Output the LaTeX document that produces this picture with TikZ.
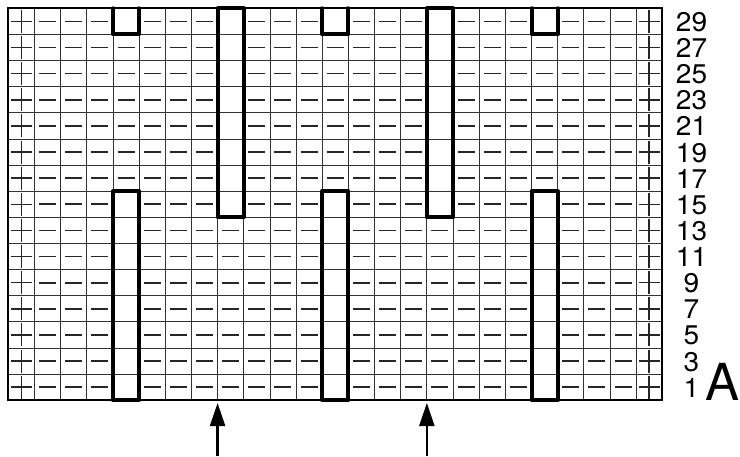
\documentclass[tikz,border=0pt]{standalone}
\usepackage{fontspec}
\setmainfont{TeX Gyre Heros}
\usetikzlibrary{arrows.meta}
\tikzset{
  gridline/.style={draw=black!80, line width=0.8pt},
  border/.style={draw=black, line width=1.8pt},
  boxline/.style={draw=black, line width=4pt, line cap=round, line join=round},
  minussym/.style={draw=black!85, line width=1.7pt},
  plussym/.style={draw=black!85, line width=1.5pt},
  rowlabel/.style={font=\fontsize{27}{27}\selectfont, anchor=base, inner sep=0pt},
  bigletter/.style={font=\fontsize{51}{51}\selectfont, anchor=base east, inner sep=0pt},
  uparrow/.style={draw=black, line width=2.2pt, -{Triangle[length=23pt,width=15pt]}}
}
\begin{document}
\begin{tikzpicture}[x=1pt,y=-1pt]
\useasboundingbox (0,0) rectangle (740,456);
\def\gx{8.3}\def\gy{8.3}\def\cw{26.16}\def\ch{26.13}
% grid lines
\foreach \c in {1,...,24}{
  \draw[gridline] ({\gx+\c*\cw},\gy) -- ({\gx+\c*\cw},{\gy+15*\ch});
}
\foreach \r in {1,...,14}{
  \draw[gridline] (\gx,{\gy+\r*\ch}) -- ({\gx+25*\cw},{\gy+\r*\ch});
}
% symbols
\foreach \r in {0,...,14}{
  \foreach \c in {1,...,23}{
    \pgfmathtruncatemacro\e{((\c==8 || \c==16) && \r<8) || ((\c==4 || \c==12 || \c==20) && (\r>6 || \r==0))}
    \ifnum\e=0
      \draw[minussym] ({\gx+(\c+0.5)*\cw-8.5},{\gy+(\r+0.5)*\ch}) -- ++(17,0);
    \fi
  }
  \foreach \c in {0,24}{
    \draw[plussym] ({\gx+(\c+0.5)*\cw-10.3},{\gy+(\r+0.5)*\ch}) -- ++(20.6,0);
    \draw[plussym] ({\gx+(\c+0.5)*\cw},{\gy+(\r+0.5)*\ch-11.5}) -- ++(0,23);
  }
}
% border
\draw[border] (\gx,\gy) rectangle ({\gx+25*\cw},{\gy+15*\ch});
% tall top boxes
\foreach \c in {8,16}{
  \draw[boxline] ({\gx+\c*\cw},\gy) rectangle ({\gx+(\c+1)*\cw},{\gy+8*\ch});
}
% bottom boxes and top open boxes
\foreach \c in {4,12,20}{
  \draw[boxline] ({\gx+\c*\cw},{\gy+7*\ch}) rectangle ({\gx+(\c+1)*\cw},{\gy+15*\ch});
  \draw[boxline] ({\gx+\c*\cw},\gy) -- ({\gx+\c*\cw},{\gy+\ch}) -- ({\gx+(\c+1)*\cw},{\gy+\ch}) -- ({\gx+(\c+1)*\cw},\gy);
}
% row labels
\foreach \r in {0,...,14}{
  \pgfmathtruncatemacro\lab{29-2*\r}
  \node[rowlabel] (lab\lab) at (691.5,{\gy+(\r+0.5)*\ch+10}) {\scalebox{1.04}[1]{\lab}};
}
\node[bigletter] (letterA) at (739.5,400.5) {A};
% arrows
\coordinate (a1top) at ({\gx+8*\cw},403);
\coordinate (a1bot) at ({\gx+8*\cw},456);
\coordinate (a2top) at ({\gx+16*\cw},403);
\coordinate (a2bot) at ({\gx+16*\cw},456);
\draw[uparrow] (a1bot) -- (a1top);
\draw[uparrow] (a2bot) -- (a2top);
\end{tikzpicture}
\end{document}
